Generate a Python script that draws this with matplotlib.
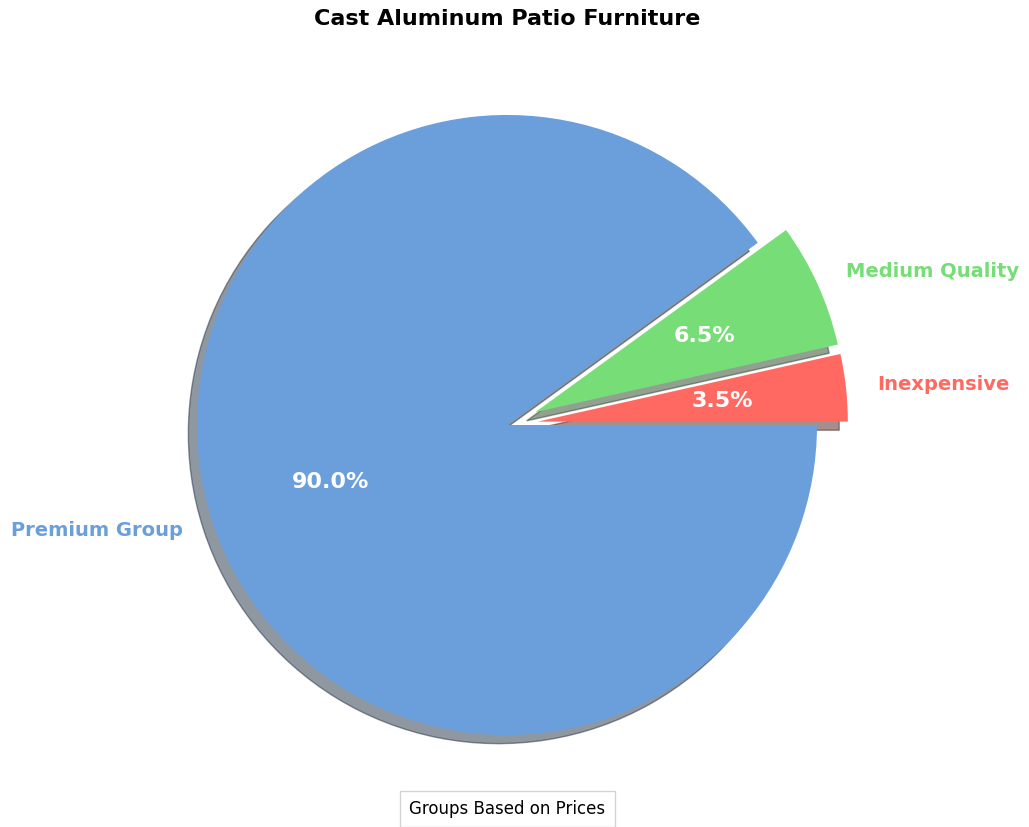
import matplotlib.pyplot as plt

# data
labels = ["Inexpensive", "Medium Quality", "Premium Group"]
shares = [3.5, 6.5, 90.0]
colors = ["#FF6961", "#77DD77", "#6A9FDB"]
explode = [0.1, 0.1, 0.0]

fig, ax = plt.subplots(figsize=(10.29, 8.27), dpi=100)

wedges, texts, autotexts = ax.pie(shares, labels=labels, colors=colors,
                                  explode=explode, autopct="%1.1f%%",
                                  shadow=True, startangle=0,
                                  textprops={"fontsize": 14, "fontweight": "bold"})

for t, c in zip(texts, colors):
    t.set_color(c)
for t in autotexts:
    t.set_color("white")
    t.set_fontsize(16)

ax.set_title("Cast Aluminum Patio Furniture", fontsize=16, fontweight="bold", pad=9)
ax.set_xlim(-1.25, 1.25)
ax.set_ylim(-1.25, 1.25)

fig.text(0.493, 0.022, "Groups Based on Prices", ha="center", va="center", fontsize=12,
         bbox=dict(facecolor="white", edgecolor="lightgray", boxstyle="square,pad=0.55"))

plt.subplots_adjust(left=0.0, right=0.9854, top=0.9547, bottom=0.0175)
plt.savefig("out.png")
